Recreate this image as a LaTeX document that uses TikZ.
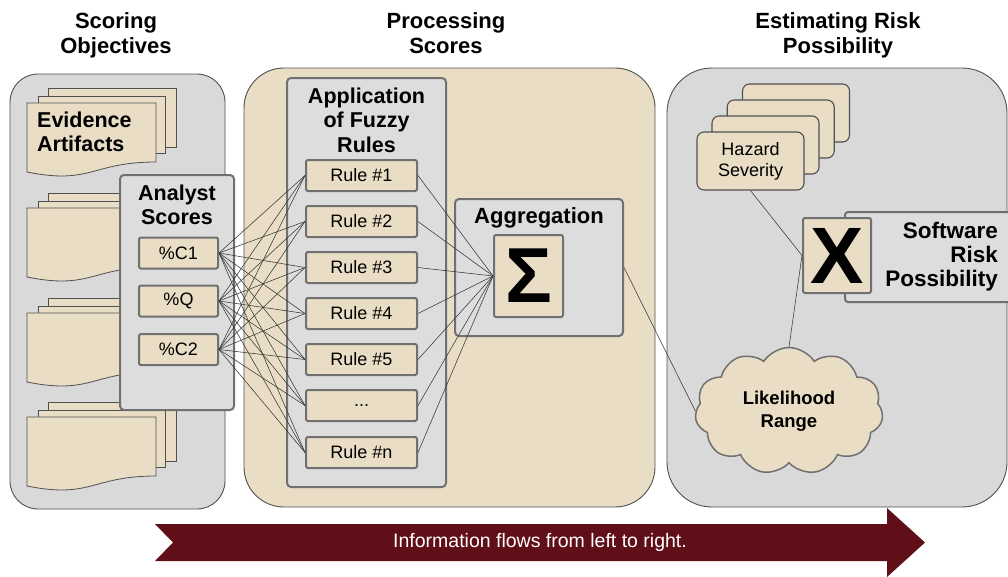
\documentclass[tikz,border=0pt]{standalone}
\usepackage{fontspec}
\setmainfont{Liberation Sans}
\usetikzlibrary{shapes.symbols}

\definecolor{sand}{RGB}{233,221,197}
\definecolor{panelgray}{RGB}{217,217,217}
\definecolor{boxgray}{RGB}{221,221,221}
\definecolor{edgedark}{RGB}{80,80,80}
\definecolor{edgemid}{RGB}{112,112,112}
\definecolor{wiregray}{RGB}{55,55,55}
\definecolor{flowred}{RGB}{96,14,24}

\begin{document}
\begin{tikzpicture}[
    x=1pt, y=-1pt,
    panel/.style={draw=edgedark, line width=0.9pt},
    container/.style={
        rectangle,
        rounded corners=4pt,
        draw=edgemid,
        fill=boxgray,
        line width=2pt,
        inner sep=0pt
    },
    tanbox/.style={
        rectangle,
        rounded corners=2pt,
        draw=edgemid,
        fill=sand,
        line width=2pt,
        inner sep=0pt,
        minimum height=31pt,
        font=\fontsize{18}{20}\selectfont
    },
    sheet/.style={draw=edgedark, fill=sand, line width=0.8pt},
    hazardbox/.style={
        rectangle,
        rounded corners=7pt,
        draw=edgedark,
        fill=sand,
        line width=1.1pt,
        minimum width=107pt,
        minimum height=58pt,
        align=center,
        inner sep=0pt,
        font=\fontsize{18}{21}\selectfont
    },
    heading/.style={font=\fontsize{22}{25}\selectfont\bfseries, align=center, inner sep=0pt},
    boxtitle/.style={font=\fontsize{21.5}{24.5}\selectfont\bfseries, align=center, inner sep=0pt},
    wire/.style={draw=wiregray, line width=0.55pt}
]
\useasboundingbox (0,0) rectangle (1008,576);

% three stages
\draw[panel, fill=panelgray, rounded corners=28pt] (10,74) rectangle (225,509);
\draw[panel, fill=sand, rounded corners=40pt] (244,68) rectangle (655,507);
\draw[panel, fill=panelgray, rounded corners=45pt] (667,68) rectangle (1007,507);

\node[heading] (scoring) at (116,35) {Scoring\\Objectives};
\node[heading] (processing) at (446,33) {Processing\\Scores};
\node[heading] (estimating) at (838,35) {Estimating Risk\\Possibility};

% evidence documents
\foreach \dy in {0,105,210,314} {
    \draw[sheet] (48,88+\dy) rectangle (176,147+\dy);
    \draw[sheet] (38,96+\dy) rectangle (165,153+\dy);
    \draw[sheet] (27,103+\dy) -- (156,103+\dy) -- (156,162+\dy)
        .. controls (91.5,162+\dy) and (91.5,185+\dy) .. (27,172+\dy) -- cycle;
}
\node[boxtitle, align=left, anchor=west] (evidence) at (37,132) {Evidence\\Artifacts};

% analyst scores
\node[container, minimum width=114, minimum height=235] (analyst) at (177,292.5) {};
\node[boxtitle] (analysttitle) at (177,205) {Analyst\\Scores};
\node[tanbox, minimum width=79] (c1) at (178.5,253) {\%C1};
\node[tanbox, minimum width=79] (q) at (178.5,301) {\%Q};
\node[tanbox, minimum width=79] (c2) at (178.5,349.5) {\%C2};

% fuzzy rules
\node[container, minimum width=159, minimum height=409] (rules) at (366.5,282.5) {};
\node[boxtitle] (rulestitle) at (366.5,120) {Application\\of Fuzzy\\Rules};
\node[tanbox, minimum width=111] (r1) at (361.5,175.5) {Rule \#1};
\node[tanbox, minimum width=111] (r2) at (361.5,221.5) {Rule \#2};
\node[tanbox, minimum width=111] (r3) at (361.5,267.5) {Rule \#3};
\node[tanbox, minimum width=111] (r4) at (361.5,313.5) {Rule \#4};
\node[tanbox, minimum width=111] (r5) at (361.5,359.5) {Rule \#5};
\node[tanbox, minimum width=111] (r6) at (361.5,405.5) {...};
\node[tanbox, minimum width=111] (r7) at (361.5,452.5) {Rule \#n};

% aggregation
\node[container, minimum width=168, minimum height=137] (aggregation) at (539,267.5) {};
\node[boxtitle, font=\fontsize{22}{24}\selectfont\bfseries] (aggtitle) at (539,218) {Aggregation};
\node[tanbox, minimum width=69, minimum height=82, font=\fontsize{78}{80}\selectfont\bfseries] (sigma) at (528.5,276) {Σ};

% risk estimation
\node[hazardbox] (h4) at (796,113) {};
\node[hazardbox] (h3) at (780.7,129) {};
\node[hazardbox] (h2) at (765.5,145) {};
\node[hazardbox] (hazard) at (750.5,161) {Hazard\\Severity};

\node[container, rounded corners=3pt, minimum width=167, minimum height=90] (software) at (928.5,257) {};
\node[boxtitle, align=right, anchor=east, font=\fontsize{22.5}{24}\selectfont\bfseries] (softwaretitle) at (998,257) {Software\\Risk\\Possibility};
\node[tanbox, minimum width=68, minimum height=75, font=\fontsize{80}{82}\selectfont\bfseries] (times) at (837,255.5) {X};

\node[cloud, cloud puffs=11, cloud puff arc=115, aspect=1.5, draw=edgemid, fill=sand, line width=1.5pt,
    minimum width=188, minimum height=127, inner sep=0pt, align=center,
    font=\fontsize{18.5}{23}\selectfont\bfseries] (likelihood) at (789,411) {Likelihood\\Range};

% connectors
\foreach \s in {c1,q,c2}
    \foreach \r in {1,...,7}
        \draw[wire] (\s.east) -- (r\r.west);
\foreach \r in {1,...,7}
    \draw[wire] (r\r.east) -- (sigma.west);
\draw[wire] (aggregation.east) -- (likelihood.west);
\draw[wire] (hazard.south) -- (times.west);
\draw[wire] (likelihood.north) -- (times.west);

% flow arrow
\fill[flowred] (155,524) -- (887,524) -- (887,508) -- (925,542.5) -- (887,577)
    -- (887,561) -- (155,561) -- (173,542.5) -- cycle;
\node[text=white, font=\fontsize{19.5}{21}\selectfont, inner sep=0pt] (flowtext) at (540,542.5) {Information flows from left to right.};

\end{tikzpicture}
\end{document}
